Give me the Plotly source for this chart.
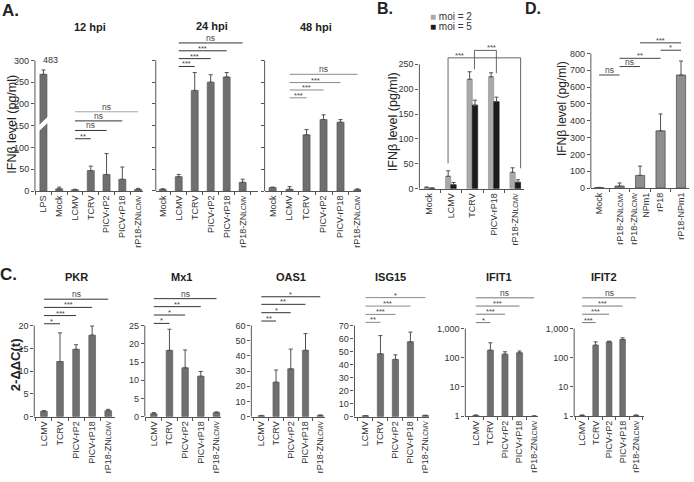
import math
import plotly.graph_objects as go

W, H = 694, 482
FONT = "Liberation Sans, Arial, sans-serif"
ZN = "rP18-ZN<span style='font-size:6.5px'>LCMV</span>"

# ---------------- data ----------------
a12_cats = ["LPS", "Mock", "LCMV", "TCRV", "PICV-rP2", "PICV-rP18", ZN]
a12_vals = [268, 5, 3, 47, 38, 27, 4]
a12_err = [10, 4, 1, 10, 48, 28, 2]
lps_true_label = "483"
a12_sig = [(2, 3, 120, "**"), (2, 4, 139, "ns"), (2, 5, 161, "ns"), (2, 6, 182, "ns")]

a24_cats = ["Mock", "LCMV", "TCRV", "PICV-rP2", "PICV-rP18", ZN]
a24_vals = [4, 33, 231, 250, 262, 20]
a24_err = [1, 5, 41, 17, 10, 7]
a24_sig = [(1, 2, 286, "***"), (1, 3, 304, "***"), (1, 4, 322, "***"), (1, 5, 340, "ns")]

a48_cats = ["Mock", "LCMV", "TCRV", "PICV-rP2", "PICV-rP18", ZN]
a48_vals = [8, 4, 129, 164, 158, 3]
a48_err = [1, 6, 12, 11, 6, 2]
a48_sig = [(1, 2, 214, "***"), (1, 3, 232, "***"), (1, 4, 249, "***"), (1, 5, 268, "ns")]

b_cats = ["Mock", "LCMV", "TCRV", "PICV-rP18", ZN]
b_moi2 = [2, 25, 220, 225, 33]
b_moi2_err = [1.5, 11, 15, 8, 9]
b_moi5 = [1, 8, 168, 175, 13]
b_moi5_err = [0.5, 4.5, 10, 9, 5]
b_series_names = ["moi = 2", "moi = 5"]

d_cats = ["Mock", ZN, ZN + "<br>NPm1", "rP18", "rP18-NPm1"]
d_vals = [3, 12, 75, 340, 672]
d_err = [1, 18, 55, 100, 83]
d_sig = [(0, 1, 672, "ns"), (1, 2, 722, "ns"), (1, 3, 771, "**"), (3, 4, 819, "*"), (2, 4, 863, "***")]

c_cats = ["LCMV", "TCRV", "PICV-rP2", "PICV-rP18", ZN]
genes = ["PKR", "Mx1", "OAS1", "ISG15", "IFIT1", "IFIT2"]
pkr_vals = [1.2, 12.1, 14.8, 17.9, 1.3]
pkr_err = [0.1, 6.3, 1.0, 2.0, 0.3]
mx1_vals = [0.8, 18.2, 13.4, 11.1, 1.1]
mx1_err = [0.3, 5.8, 4.9, 1.3, 0.2]
oas1_vals = [0.6, 22.7, 31.5, 43.7, 0.8]
oas1_err = [0.2, 8.0, 13.0, 11.0, 0.3]
isg15_vals = [0.6, 48.3, 44.0, 57.5, 0.8]
isg15_err = [0.2, 14.0, 3.5, 7.5, 0.3]
ifit1_vals = [1.05, 182, 133, 148, 1.0]
ifit1_err = [0.05, 143, 27, 22, 0.02]
ifit2_vals = [1.05, 270, 350, 420, 1.05]
ifit2_err = [0.05, 80, 20, 60, 0.05]

pkr_sig = [(0, 1, 20.4, "*"), (0, 2, 22.2, "***"), (0, 3, 24.0, "***"), (0, 4, 25.8, "ns")]
mx1_sig = [(0, 1, 25.6, "*"), (0, 2, 27.9, "*"), (0, 3, 30.2, "**"), (0, 4, 32.4, "ns")]
oas1_sig = [(0, 1, 63, "**"), (0, 2, 68.5, "*"), (0, 3, 74, "**"), (0, 4, 79, "*")]
isg15_sig = [(0, 1, 72.5, "**"), (0, 2, 78.6, "***"), (0, 3, 85, "***"), (0, 4, 91.5, "*")]
ifit1_sig = [(0, 1, 1600, "*"), (0, 2, 3100, "***"), (0, 3, 5900, "***"), (0, 4, 11300, "ns")]
ifit2_sig = [(0, 1, 1600, "***"), (0, 2, 3100, "***"), (0, 3, 5900, "***"), (0, 4, 11300, "ns")]

ticks_a = [0, 50, 100, 150, 200, 250, 300]
ticks_b = [0, 50, 100, 150, 200, 250]
ticks_d = [0, 100, 200, 300, 400, 500, 600, 700, 800]
ticks_pkr = [0, 5, 10, 15, 20]
ticks_mx1 = [0, 5, 10, 15, 20, 25]
ticks_oas1 = [0, 10, 20, 30, 40, 50, 60]
ticks_isg15 = [0, 10, 20, 30, 40, 50, 60, 70]
ticks_log = [1, 10, 100, 1000]
ticks_log_text = ["1", "10", "100", "1,000"]

# ---------------- geometry (pixels) ----------------
geo = {
    "A12": dict(xl=35, xr=143, c0=43.5, dx=15.8, yb=193, yt=61, top=50),
    "A24": dict(xl=156, xr=258, c0=163, dx=16, yb=193, yt=61, top=28),
    "A48": dict(xl=265, xr=362, c0=273, dx=17, yb=193, yt=61, top=50),
    "B": dict(xl=420, xr=525, c0=430, dx=21.5, yb=190.7, yt=65, top=35),
    "D": dict(xl=591.7, xr=690, c0=600, dx=20.5, yb=190, yt=54, top=30),
    "PKR": dict(xl=34.3, xr=115, c0=44, dx=16.1, yb=421, yt=329, top=288),
    "Mx1": dict(xl=145, xr=221.7, c0=154, dx=15.7, yb=421, yt=329, top=288),
    "OAS1": dict(xl=251.7, xr=325, c0=261.7, dx=14.75, yb=421, yt=329, top=288),
    "ISG15": dict(xl=355, xr=430, c0=366, dx=15, yb=421, yt=329, top=288),
    "IFIT1": dict(xl=466, xr=539, c0=476.5, dx=14.6, yb=420.5, yt=332, top=288),
    "IFIT2": dict(xl=575, xr=645, c0=583, dx=13.5, yb=420.5, yt=332, top=288),
}

fig = go.Figure()
layout = {}
shapes = []
annotations = []
AX = "#555555"
TICKFONT = dict(size=9, color="#333", family=FONT)
state = {"i": 0}


def add_panel(name, cats, series, T, ticks, ticktext=None, log=False,
              showlabels=True, sig=None, sig_color="#444444", sig_top_color=None):
    state["i"] += 1
    i = state["i"]
    g = geo[name]
    xa = "x" if i == 1 else f"x{i}"
    ya = "y" if i == 1 else f"y{i}"
    n = len(cats)
    xs = list(range(n))
    for vals, err, color, width, offset, lcol in series:
        fig.add_trace(go.Bar(
            x=xs, y=vals, width=width, offset=offset,
            marker=dict(color=color, line=dict(color=lcol, width=0.6)),
            error_y=dict(type="data", array=err, arrayminus=[0] * n,
                         symmetric=False, color="#505050", thickness=1, width=2),
            xaxis=xa, yaxis=ya, showlegend=False, hoverinfo="skip"))
    xr0 = (g["xl"] - g["c0"]) / g["dx"]
    xr1 = (g["xr"] - g["c0"]) / g["dx"]
    frac = (g["yb"] - g["top"]) / (g["yb"] - g["yt"])
    if log:
        yrange = [0, math.log10(T) * frac]
    else:
        yrange = [0, T * frac]
    minor_vals = [k + 0.5 for k in range(-1, n) if xr0 < k + 0.5 <= xr1 + 0.01]
    layout["xaxis" if i == 1 else f"xaxis{i}"] = dict(
        domain=[g["xl"] / W, g["xr"] / W], range=[xr0, xr1], anchor=ya,
        tickmode="array", tickvals=xs, ticktext=cats, tickangle=-90,
        ticks="", showline=True, linecolor=AX, linewidth=1,
        showgrid=False, zeroline=False, fixedrange=True, tickfont=TICKFONT,
        minor=dict(tickmode="array", tickvals=minor_vals, ticks="outside",
                   ticklen=3, tickcolor=AX, tickwidth=1, showgrid=False))
    layout["yaxis" if i == 1 else f"yaxis{i}"] = dict(
        domain=[1 - g["yb"] / H, 1 - g["top"] / H], range=yrange, anchor=xa,
        type="log" if log else "linear",
        tickmode="array", tickvals=ticks,
        ticktext=ticktext if ticktext else [str(t) for t in ticks],
        ticks="outside", ticklen=3, tickcolor=AX, tickwidth=1,
        showticklabels=showlabels, showline=False, showgrid=False,
        zeroline=False, fixedrange=True, tickfont=TICKFONT)
    shapes.append(dict(type="line", xref=f"{xa} domain", yref=ya, x0=0, x1=0,
                       y0=(1 if log else 0), y1=T, line=dict(color=AX, width=1)))
    if sig:
        for k, (a, b, lev, txt) in enumerate(sig):
            col = sig_top_color if (sig_top_color and k == len(sig) - 1) else sig_color
            shapes.append(dict(type="line", xref=xa, yref=ya, x0=a, x1=b,
                               y0=lev, y1=lev, line=dict(color=col, width=1)))
            star = "*" in txt
            annotations.append(dict(
                xref=xa, yref=ya, x=(a + b) / 2,
                y=math.log10(lev) if log else lev, text=txt, showarrow=False,
                yanchor="bottom", xanchor="center",
                yshift=-4 if star else -2,
                font=dict(size=7.5 if star else 8.5, color="#444", family=FONT)))
    return xa, ya


BAR_A = "#6f6f6f"
EDGE_A = "#555555"

xa1, ya1 = add_panel("A12", a12_cats, [(a12_vals, a12_err, BAR_A, 0.45, -0.225, EDGE_A)],
                     300, ticks_a, sig=a12_sig, sig_color="#333", sig_top_color="#a8a8a8")
add_panel("A24", a24_cats, [(a24_vals, a24_err, BAR_A, 0.44, -0.22, EDGE_A)],
          300, ticks_a, showlabels=False, sig=a24_sig, sig_color="#333")
add_panel("A48", a48_cats, [(a48_vals, a48_err, BAR_A, 0.42, -0.21, EDGE_A)],
          300, ticks_a, showlabels=False, sig=a48_sig, sig_color="#8a8a8a")
xb, yb = add_panel("B", b_cats, [(b_moi2, b_moi2_err, "#a9a9a9", 0.25, -0.25, "#8f8f8f"),
                                 (b_moi5, b_moi5_err, "#1b1b1b", 0.25, 0.0, "#111")],
                   250, ticks_b)
add_panel("D", d_cats, [(d_vals, d_err, "#8e8e8e", 0.45, -0.225, "#333")],
          800, ticks_d, sig=d_sig)

c_specs = [
    ("PKR", pkr_vals, pkr_err, 20, ticks_pkr, None, False, pkr_sig, "#333"),
    ("Mx1", mx1_vals, mx1_err, 25, ticks_mx1, None, False, mx1_sig, "#333"),
    ("OAS1", oas1_vals, oas1_err, 60, ticks_oas1, None, False, oas1_sig, "#333"),
    ("ISG15", isg15_vals, isg15_err, 70, ticks_isg15, None, False, isg15_sig, "#8a8a8a"),
    ("IFIT1", ifit1_vals, ifit1_err, 1000, ticks_log, ticks_log_text, True, ifit1_sig, "#777"),
    ("IFIT2", ifit2_vals, ifit2_err, 1000, ticks_log, ticks_log_text, True, ifit2_sig, "#777"),
]
for gname, vals, err, T, tks, ttxt, lg, sg, sc in c_specs:
    add_panel(gname, c_cats, [(vals, err, BAR_A, 0.42, -0.21, EDGE_A)], T, tks,
              ticktext=ttxt, log=lg, sig=sg, sig_color=sc)

# B significance brackets (drawn in B data space)
b_brackets = [
    [(0.87, 51), (0.87, 263), (4.25, 263), (4.25, 41)],
    [(2.1, 240), (2.1, 278), (3.12, 278), (3.12, 232)],
]
for pts in b_brackets:
    for (x0, y0), (x1, y1) in zip(pts[:-1], pts[1:]):
        shapes.append(dict(type="line", xref=xb, yref=yb, x0=x0, y0=y0, x1=x1, y1=y1,
                           line=dict(color="#666", width=1)))
annotations.append(dict(xref=xb, yref=yb, x=1.4, y=263, text="***", showarrow=False,
                        yanchor="bottom", yshift=-4, font=dict(size=7.5, color="#444", family=FONT)))
annotations.append(dict(xref=xb, yref=yb, x=2.9, y=278, text="***", showarrow=False,
                        yanchor="bottom", yshift=-4, font=dict(size=7.5, color="#444", family=FONT)))

# LPS axis-break cut and true value label
shapes.append(dict(type="path", xref=xa1, yref=ya1,
                   path="M -0.32,136 L 0.32,158 L 0.32,172 L -0.32,150 Z",
                   fillcolor="white", line=dict(width=0)))
annotations.append(dict(xref=xa1, yref=ya1, x=0.47, y=300, text=lps_true_label,
                        showarrow=False, font=dict(size=9, color="#333", family=FONT)))


def pann(px, py, text, size, bold=False, angle=0, xanchor="center", color="#222"):
    annotations.append(dict(
        xref="paper", yref="paper", x=px / W, y=1 - py / H,
        text=f"<b>{text}</b>" if bold else text, showarrow=False,
        xanchor=xanchor, yanchor="middle", textangle=angle,
        font=dict(size=size, color=color, family=FONT)))


# panel letters
pann(11, 11, "A.", 17, bold=True)
pann(386, 9, "B.", 16, bold=True)
pann(9, 277, "C.", 17, bold=True)
pann(534, 9, "D.", 16, bold=True)
# A titles
pann(90, 27, "12 hpi", 11, bold=True)
pann(212, 26, "24 hpi", 11, bold=True)
pann(316, 27, "48 hpi", 11, bold=True)
# C titles
for gname, px in zip(genes, [77, 182, 291, 391, 500, 605]):
    pann(px, 280, gname, 11, bold=True)
# y titles
pann(12, 125, "IFNβ level (pg/ml)", 12.5, angle=-90)
pann(393, 123, "IFNβ level (pg/ml)", 12.5, angle=-90)
pann(563, 110, "IFNβ level (pg/ml)", 12, angle=-90)
pann(15, 368, "2-ΔΔC(t)", 13, bold=True, angle=-90)
# B legend
pann(429, 17, f"<span style='color:#a9a9a9'>■</span> {b_series_names[0]}", 10, xanchor="left", color="#333")
pann(429, 27, f"<span style='color:#1b1b1b'>■</span> {b_series_names[1]}", 10, xanchor="left", color="#333")

fig.update_layout(
    width=W, height=H, margin=dict(l=0, r=0, t=0, b=0),
    paper_bgcolor="white", plot_bgcolor="white", barmode="overlay",
    showlegend=False, font=dict(family=FONT, size=10, color="#333"),
    shapes=shapes, annotations=annotations, **layout)

fig.write_html("out.html", config={"displayModeBar": False, "staticPlot": True},
               post_script="document.body.style.margin='0px';document.body.style.overflow='hidden';")
